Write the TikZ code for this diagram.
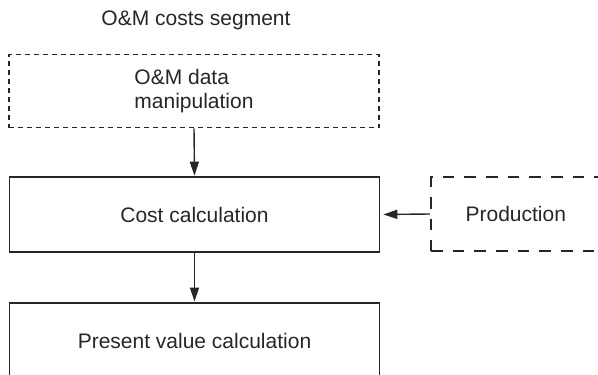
\documentclass[tikz,border=0pt]{standalone}
\usepackage{fontspec}
\setmainfont{Liberation Sans}
\usetikzlibrary{arrows.meta}
\begin{document}
\begin{tikzpicture}[x=1pt,y=-1pt,
  every node/.style={font=\fontsize{21}{23.3}\selectfont, inner sep=0pt, text=black!85},
  procbox/.style={draw=black!85, line width=1.6pt, minimum width=370pt, minimum height=75pt},
  finebox/.style={procbox, minimum height=73pt, dash pattern=on 5pt off 4pt},
  coarsebox/.style={draw=black!85, line width=1.6pt, dash pattern=on 11.7pt off 10pt, minimum width=170pt, minimum height=74pt},
  flow/.style={draw=black!85, line width=1.4pt, -{Triangle[length=14pt,width=9pt]}}]
\useasboundingbox (0,0) rectangle (598,375);
\clip (0,0) rectangle (598,375);
% heading
\node (title) at (196,20) {O\&M costs segment};
% blocks of the segment
\node[finebox, align=left] (omdata) at (194,91) {O\&M data\\manipulation};
\node[procbox] (cost) at (194.5,214.5) {Cost calculation};
\node[coarsebox, anchor=west] (prod) at (430,214) {Production};
\node[procbox, anchor=north, minimum height=76pt] (pv) at (194.5,302) {Present value calculation};
% flows between blocks
\draw[flow, shorten >=0.5pt] (omdata.south) -- (cost.north);
\draw[flow, shorten >=0.5pt] (cost.south) -- (pv.north);
\draw[flow, shorten >=3pt] (prod.west) -- (cost.east);
\end{tikzpicture}
\end{document}
